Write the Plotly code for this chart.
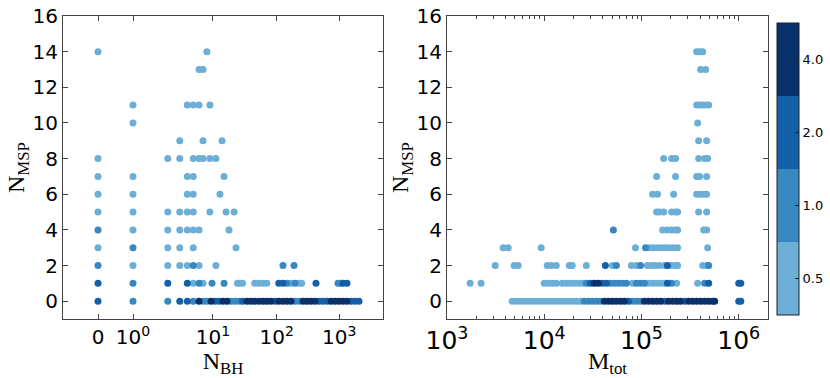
import numpy as np
import plotly.graph_objects as go

# ---- left panel: N_BH vs N_MSP (rows from top to bottom) ----
left_nbh = [
    0, 8.1,                                              # 14
    6.2, 7.1,                                            # 13
    1, 4.2, 5.1, 6.2, 9.0,                               # 11
    1,                                                   # 10
    3.3, 7.1, 13.8,                                      # 9
    0, 2.3, 3.3, 5.1, 6.2, 7.1, 9.0, 11.1,               # 8
    0, 1, 4.2, 5.1, 14.8,                                # 7
    0, 1, 4.2, 5.1, 12.8,                                # 6
    0, 1, 2.3, 3.3, 4.2, 5.1, 9.0, 15.9, 21.2,           # 5
    0, 1, 2.3, 3.3, 4.2, 5.1, 6.2, 17.7,                 # 4
    0, 1, 2.3, 3.3, 5.1, 22.7,                           # 3
    0, 1, 2.3, 3.3, 4.2, 5.1, 6.2, 11.1, 126, 189,       # 2
    0, 1, 2.3, 4.2, 5.1, 6.2, 7.1, 9.7, 14.8, 24,        # 1
    25.8, 28.8, 44.8, 52.4, 60.6, 69.7, 108, 126, 146, 169,
    196, 227, 250, 424, 953, 1050, 1146, 1327,
    0, 1, 2.3, 3.3, 4.2, 5.1, 6.2, 7.1, 8.1, 9.4,        # 0
    10.8, 12.4, 14.3, 16.5, 19.0, 21.9, 25.3, 28.8, 33.8, 39.1,
    44.8, 52.4, 60.6, 69.7, 81.2, 94, 108, 126, 146, 169,
    196, 227, 263, 305, 353, 409, 473, 548, 635, 736,
    853, 989, 1146, 1327, 1538, 1783, 2066,
]
left_nmsp = ([14] * 2 + [13] * 2 + [11] * 5 + [10] * 1 + [9] * 3 + [8] * 8 + [7] * 5
             + [6] * 5 + [5] * 9 + [4] * 8 + [3] * 6 + [2] * 10 + [1] * 28 + [0] * 47)
left_level = (
    [0.5] * 2 + [0.5] * 2 + [0.5] * 5 + [0.5] + [0.5] * 3 + [0.5] * 8 + [0.5] * 5 + [0.5] * 5
    + [0.5] * 9
    + [1, 0.5, 0.5, 0.5, 0.5, 0.5, 0.5, 0.5]
    + [0.5, 1, 0.5, 0.5, 0.5, 0.5]
    + [1, 0.5, 0.5, 0.5, 0.5, 1, 0.5, 0.5, 1, 1]
    + [2, 1, 2, 2, 0.5, 1, 0.5, 1, 1, 0.5, 0.5, 0.5, 0.5, 0.5, 0.5, 0.5, 2, 2, 1, 0.5,
       1, 0.5, 0.5, 2, 1, 1, 2, 2]
    + [2, 1, 1, 2, 2, 1, 4, 1, 1, 4, 2, 2, 4, 4, 1, 1, 1, 2, 4, 4, 4, 4, 4, 4, 4, 2,
       4, 4, 4, 4, 1, 1, 4, 4, 4, 4, 2, 2, 2, 4, 4, 4, 4, 4, 2, 2, 2]
)

# ---- right panel: M_tot vs N_MSP ----
right_mtot = [
    369000, 396000, 426000,                                              # 14
    406000, 457000,                                                      # 13
    369000, 396000, 426000, 457000, 491000,                              # 11
    378000,                                                              # 10
    387000, 468000,                                                      # 9
    169000, 204000, 224000, 387000, 446000, 479000,                      # 8
    143000, 224000, 369000, 396000, 468000,                              # 7
    130000, 146000, 214000, 369000, 396000, 436000, 468000,              # 6
    143000, 153000, 169000, 204000, 224000, 235000, 387000, 468000,      # 5
    51400, 165000, 185000, 204000, 224000, 235000, 436000, 468000,       # 4
    3780, 4260, 9310, 86700, 110000, 121000, 133000, 146000, 161000,     # 3
    177000, 194000, 214000, 235000, 479000,
    3130, 4910, 5400, 10740, 11800, 13300, 18100, 19400, 27100, 42500,   # 2
    50200, 55200, 78800, 88800, 97700, 115000, 127000, 139000, 153000,
    173000, 185000, 204000, 224000, 235000, 426000, 468000, 491000,
    1730, 2240, 10000, 11000, 12100, 13300, 15300, 16900, 18500, 20400,  # 1
    22400, 24600, 27100, 29800, 32800, 36000, 39600, 43600, 47900, 52700,
    57900, 63700, 70000, 80800, 88800, 97700, 107000, 118000, 130000,
    143000, 157000, 173000, 185000, 204000, 230000, 378000, 446000,
    491000, 1000000, 1050000,
    4680, 5140, 5660, 6220, 6840, 7520, 8270, 9100, 10000, 11000,        # 0
    12100, 13300, 14600, 16100, 17700, 19400, 21400, 23500,
    25800, 28400, 31300, 34400, 37800,
    41600, 45700, 50200, 55200, 60800, 66800,
    73500,
    80800, 88800, 97700,
    107000, 118000, 130000, 143000, 157000,
    173000,
    190000, 209000, 230000, 252000,
    278000,
    305000, 336000, 369000, 406000, 446000, 491000, 539000, 566000,
    1000000, 1050000,
]
right_nmsp = ([14] * 3 + [13] * 2 + [11] * 5 + [10] * 1 + [9] * 2 + [8] * 6 + [7] * 5
              + [6] * 7 + [5] * 8 + [4] * 8 + [3] * 14 + [2] * 27 + [1] * 40 + [0] * 54)
right_level = (
    [0.5] * 3 + [0.5] * 2 + [0.5] * 5 + [0.5] + [0.5] * 2 + [0.5] * 6 + [0.5] * 5
    + [0.5] * 7 + [0.5] * 8
    + [1] + [0.5] * 7
    + [0.5] * 4 + [1] + [0.5] * 9
    + [0.5] * 9 + [2, 0.5, 1, 0.5, 0.5, 1] + [0.5] * 5 + [2] + [0.5] * 5 + [1]
    + [0.5] * 12 + [1, 2, 4, 4, 2, 2, 1, 1, 1, 1, 1, 0.5, 1, 1, 1]
    + [0.5] * 5 + [2, 1, 0.5, 0.5, 1, 2, 2, 2]
    + [0.5] * 18 + [1] * 5 + [4] * 6 + [2] + [1] * 3 + [4] * 5 + [2] + [4] * 4 + [2]
    + [4] * 8 + [2] * 2
)

assert len(left_nbh) == len(left_nmsp) == len(left_level)
assert len(right_mtot) == len(right_nmsp) == len(right_level)

levels = [0.5, 1.0, 2.0, 4.0]
level_colors = ['#6baed6', '#3787c0', '#1460a8', '#08306b']
level_labels = ['0.5', '1.0', '2.0', '4.0']

scale = []
for i, c in enumerate(level_colors):
    scale.append([i / 4, c])
    scale.append([(i + 1) / 4, c])


def nbh_axis(n):
    # symlog-like axis: 0 gets its own slot left of 10^0
    n = np.asarray(n, dtype=float)
    return np.where(n > 0, np.log10(np.maximum(n, 1) - 0.5), -0.861)


def level_index(lv):
    return [levels.index(v) for v in lv]


def order(lv):
    return np.argsort(np.asarray(lv), kind='stable')


li = order(left_level)
ri = order(right_level)

fig = go.Figure()
fig.add_trace(go.Scatter(
    x=nbh_axis(left_nbh)[li], y=np.asarray(left_nmsp)[li], mode='markers',
    marker=dict(size=7, color=np.asarray(level_index(left_level))[li],
                colorscale=scale, cmin=-0.5, cmax=3.5, line=dict(width=0)),
    xaxis='x', yaxis='y', showlegend=False))
fig.add_trace(go.Scatter(
    x=np.asarray(right_mtot)[ri], y=np.asarray(right_nmsp)[ri], mode='markers',
    marker=dict(size=7, color=np.asarray(level_index(right_level))[ri],
                colorscale=scale, cmin=-0.5, cmax=3.5, line=dict(width=0),
                colorbar=dict(x=777 / 830, xanchor='left', y=0.495, yanchor='middle',
                              len=0.964, thickness=22, xpad=0, ypad=0,
                              outlinewidth=1, outlinecolor='#222',
                              tickvals=[0, 1, 2, 3], ticktext=level_labels,
                              ticks='inside', ticklen=4, tickcolor='#222',
                              tickfont=dict(size=13, color='black',
                                            family='DejaVu Sans'))),
    xaxis='x2', yaxis='y2', showlegend=False))

tick_font = dict(size=20, color='black', family='DejaVu Sans')
title_font = dict(size=24, color='black', family='Liberation Serif')
axis_common = dict(ticks='inside', ticklen=5, tickcolor='#444', showline=True,
                   linecolor='#444', linewidth=1, mirror='allticks',
                   showgrid=False, zeroline=False, tickfont=tick_font,
                   automargin=False)

nbh_ticks = [0, 1, 10, 100, 1000]
fig.update_layout(
    width=830, height=378,
    margin=dict(l=0, r=0, t=16, b=59),
    plot_bgcolor='white', paper_bgcolor='white',
    xaxis=dict(domain=[63 / 830, 383 / 830], range=[-1.421, 3.699],
               tickvals=nbh_axis(nbh_ticks),
               ticktext=['0', '10<sup>0</sup>', '10<sup>1</sup>', '10<sup>2</sup>',
                         '10<sup>3</sup>'],
               title=dict(text='N<sub>BH</sub>', font=title_font, standoff=0),
               **axis_common),
    yaxis=dict(domain=[0, 1], range=[-1, 16], tick0=0, dtick=2,
               title=dict(text='N<sub>MSP</sub>', font=title_font, standoff=1),
               **axis_common),
    xaxis2=dict(domain=[447 / 830, 768 / 830], type='log', range=[3, 6.301],
                dtick=1, exponentformat='power', anchor='y2',
                minor=dict(ticks='inside', ticklen=3, tickcolor='#444'),
                title=dict(text='M<sub>tot</sub>', font=title_font, standoff=0),
                **axis_common),
    yaxis2=dict(domain=[0, 1], range=[-1, 16], tick0=0, dtick=2, anchor='x2',
                title=dict(text='N<sub>MSP</sub>', font=title_font, standoff=1),
                **axis_common),
)

fig.write_html("out.html", config={'displayModeBar': False},
               post_script="document.body.style.margin = '0';")
